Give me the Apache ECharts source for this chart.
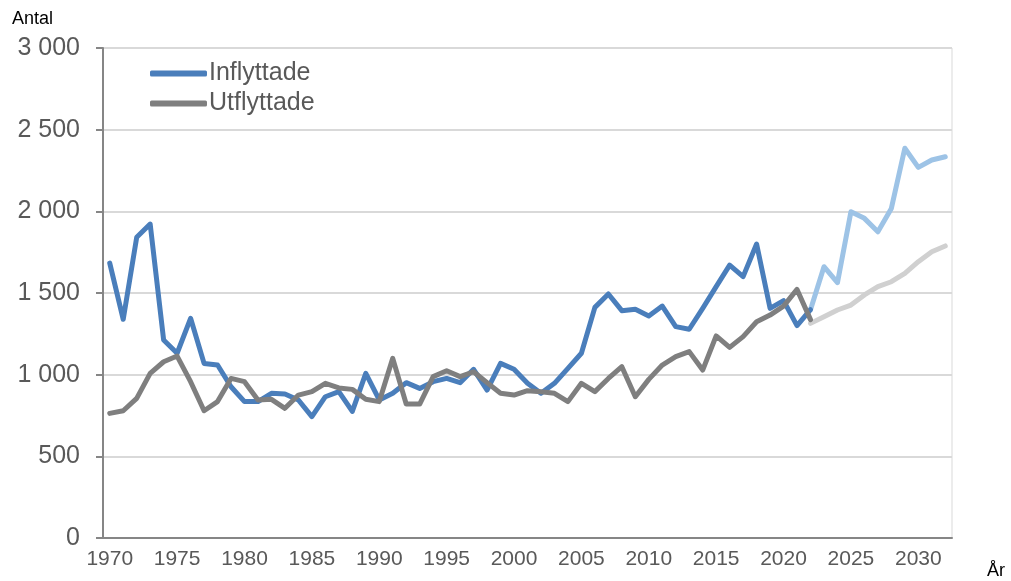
<!DOCTYPE html>
<html>
<head>
<meta charset="utf-8">
<script src="https://cdn.jsdelivr.net/npm/echarts@6/dist/echarts.min.js"></script>
<style>
    html, body { margin: 0; padding: 0; background: #fff; }
    #chart { width: 1011px; height: 581px; }
</style>
</head>
<body>
<div id="chart"></div>
<script>
    // years 1970-2032, prognosis from 2022
    const years = [];
    for (let y = 1970; y <= 2032; y++) years.push(String(y));

    const inflyttade = [
        1683, 1339, 1841, 1922, 1212, 1131, 1345, 1069, 1059, 926,
        835, 835, 886, 882, 845, 743, 865, 896, 775, 1008,
        845, 886, 951, 916, 957, 977, 951, 1033, 906, 1069,
        1033, 947, 886, 947, 1039, 1131, 1412, 1494, 1392, 1400,
        1359, 1420, 1294, 1278, 1406, 1539, 1671, 1600, 1800, 1406,
        1453, 1300, 1398
    ];
    const utflyttade = [
        763, 779, 855, 1008, 1079, 1114, 957, 779, 835, 977,
        957, 845, 849, 794, 875, 896, 947, 919, 910, 849,
        835, 1100, 820, 820, 988, 1024, 988, 1018, 951, 886,
        875, 902, 896, 886, 835, 947, 896, 977, 1049, 865,
        971, 1059, 1110, 1141, 1028, 1237, 1167, 1233, 1324, 1365,
        1420, 1522, 1337
    ];
    // prognosis 2022-2032
    const prognosInflyttade = [1398, 1661, 1563, 1998, 1957, 1875, 2018, 2386, 2269, 2314, 2334];
    const prognosUtflyttade = [1314, 1355, 1396, 1426, 1488, 1539, 1569, 1620, 1692, 1753, 1788];

    const yTicks = [0, 500, 1000, 1500, 2000, 2500, 3000];

    const padPrognos = (arr) => new Array(years.length - arr.length).fill(null).concat(arr);
    const fmt = (v) => String(v).replace(/\B(?=(\d{3})+(?!\d))/g, ' ');

    const lineSeries = (name, data, color, z) => ({
        type: 'line',
        name: name,
        data: data,
        showSymbol: false,
        symbol: 'none',
        smooth: false,
        z: z,
        lineStyle: { color: color, width: 5, cap: 'round', join: 'round' },
        itemStyle: { color: color },
        emphasis: { disabled: true }
    });

    const chart = echarts.init(document.getElementById('chart'));
    chart.setOption({
        animation: false,
        textStyle: { fontFamily: 'Liberation Sans, Arial, sans-serif' },
        grid: {
            left: 103, right: 59, top: 48, bottom: 43,
            show: true, borderColor: '#d9d9d9', borderWidth: 1
        },
        legend: {
            data: ['Inflyttade', 'Utflyttade'],
            orient: 'vertical',
            left: 145,
            top: 56,
            itemWidth: 57,
            itemHeight: 6,
            itemGap: 5,
            icon: 'roundRect',
            textStyle: { color: '#595959', fontSize: 25, lineHeight: 25, padding: [0, 0, 0, -3] }
        },
        graphic: [
            { type: 'text', left: 12, top: 10, style: { text: 'Antal', fontSize: 18, fill: '#000', fontFamily: 'Liberation Sans, Arial, sans-serif' } },
            { type: 'text', left: 987, top: 562, style: { text: 'År', fontSize: 18, fill: '#000', fontFamily: 'Liberation Sans, Arial, sans-serif' } }
        ],
        xAxis: {
            type: 'category',
            data: years,
            boundaryGap: true,
            axisLine: { lineStyle: { color: '#868686', width: 2 } },
            axisTick: { interval: 4, length: 7, lineStyle: { color: '#868686', width: 2 } },
            axisLabel: { interval: 4, color: '#595959', fontSize: 21, margin: 11 },
            splitLine: { show: false }
        },
        yAxis: {
            type: 'value',
            min: yTicks[0],
            max: yTicks[yTicks.length - 1],
            interval: 500,
            axisLine: { show: true, lineStyle: { color: '#868686', width: 2 } },
            axisTick: { show: true, length: 7, lineStyle: { color: '#868686', width: 2 } },
            axisLabel: { color: '#595959', fontSize: 25, margin: 23, formatter: fmt },
            splitLine: { lineStyle: { color: '#d9d9d9', width: 2 } }
        },
        series: [
            lineSeries('Prognos inflyttade', padPrognos(prognosInflyttade), '#9dc3e6', 2),
            lineSeries('Prognos utflyttade', padPrognos(prognosUtflyttade), '#d0d0d0', 2),
            lineSeries('Inflyttade', inflyttade, '#4a7ebb', 3),
            lineSeries('Utflyttade', utflyttade, '#7f7f7f', 4)
        ]
    });

    window.addEventListener('resize', () => chart.resize());
</script>
</body>
</html>
